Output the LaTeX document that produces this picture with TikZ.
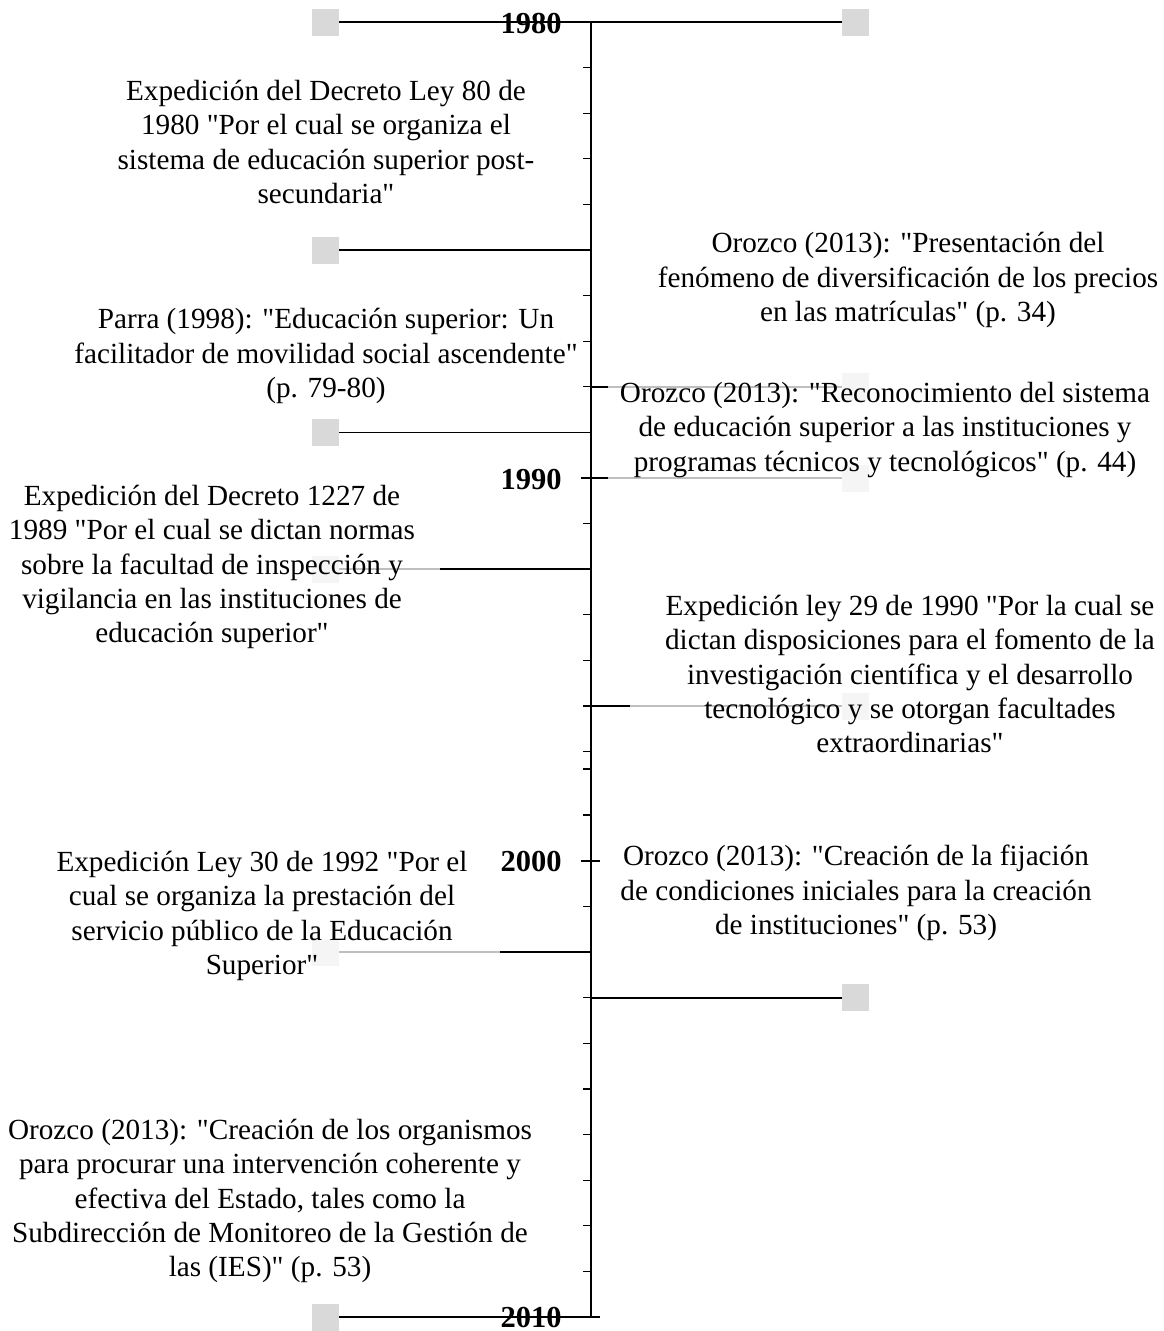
\documentclass[tikz,border=0pt]{standalone}
\usepackage{fontspec}
\setmainfont{Liberation Serif}[Ligatures=TeXOff]
\definecolor{sqgray}{HTML}{D9D9D9}
\begin{document}
\begin{tikzpicture}[x=1pt,y=-1pt,
  sq/.style={fill=sqgray, draw=none, minimum size=27pt, inner sep=0pt},
  ev/.style={line width=1.8pt, black},
  tk/.style={line width=1.3pt, black},
  txt/.style={font=\fontsize{29.2}{34.2}\selectfont, align=center, fill=white, fill opacity=0.75, text opacity=1, inner sep=4pt},
  yr/.style={font=\fontsize{30.5}{34.2}\selectfont\bfseries, inner sep=0pt}]
\useasboundingbox (0,0) rectangle (1164,1331);
% axis
\coordinate (atop) at (591,22);
\coordinate (abot) at (591,1317);
\draw[tk] (atop) -- (abot);
% regular ticks
\foreach \yy in {67.6,113.2,158.8,204.4,250,295.6,341.2,386.8,432.4,523.6,569.2,614.8,660.4,706,751.6,769,815,906.6,952.2,997.8,1043.4,1089,1134.6,1180.2,1225.8,1271.4}
  \draw[tk] (583,\yy) -- (591,\yy);
% year ticks
\foreach \yy in {22,478,861,1317}
  \draw[tk] (581,\yy) -- (600,\yy);
% squares
\node[sq] (sL1) at (325.5,22) {};
\node[sq] (sR1) at (855.5,22) {};
\node[sq] (sL2) at (325.5,250) {};
\node[sq] (sR2) at (855.5,386.8) {};
\node[sq] (sL3) at (325.5,432.4) {};
\node[sq] (sR3) at (855.5,478) {};
\node[sq] (sL4) at (325.5,569.2) {};
\node[sq] (sR4) at (855.5,706) {};
\node[sq] (sL5) at (325.5,952.2) {};
\node[sq] (sR5) at (855.5,997.8) {};
\node[sq] (sL6) at (325.5,1317) {};
% axis anchor points
\coordinate (aL1) at (591,22);
\coordinate (aL2) at (591,250);
\coordinate (aR2) at (591,386.8);
\coordinate (aL3) at (591,432.4);
\coordinate (aR3) at (591,478);
\coordinate (aL4) at (591,569.2);
\coordinate (aR4) at (591,706);
\coordinate (aL5) at (591,952.2);
\coordinate (aR5) at (591,997.8);
\coordinate (aL6) at (591,1317);
% event lines
\draw[ev] (aL1) -- (sL1);
\draw[ev] (aL1) -- (sR1);
\draw[ev] (aL2) -- (sL2);
\draw[ev] (aR2) -- (sR2);
\draw[ev] (aL3) -- (sL3);
\draw[ev] (aR3) -- (sR3);
\draw[ev] (aL4) -- (sL4);
\draw[ev] (aR4) -- (sR4);
\draw[ev] (aL5) -- (sL5);
\draw[ev] (aR5) -- (sR5);
\draw[ev] (aL6) -- (sL6);
% text boxes
\node[txt] (tA) at (326,142) {Expedición del Decreto Ley 80 de\\1980 "Por el cual se organiza el\\sistema de educación superior post-\\secundaria"};
\node[txt] (tB) at (908,280) {Orozco (2013): "Presentación del\\fenómeno de diversificación de los precios\\en las matrículas" (p. 34)};
\node[txt, minimum width=554pt, inner ysep=16pt] (tC) at (885,430) {Orozco (2013): "Reconocimiento del sistema\\de educación superior a las instituciones y\\programas técnicos y tecnológicos" (p. 44)};
\node[txt] (tF) at (326,356) {Parra (1998): "Educación superior: Un\\facilitador de movilidad social ascendente"\\(p. 79-80)};
\node[txt, minimum width=456pt] (tG) at (212,567) {Expedición del Decreto 1227 de\\1989 "Por el cual se dictan normas\\sobre la facultad de inspección y\\vigilancia en las instituciones de\\educación superior"};
\node[txt, minimum width=560pt, inner ysep=6pt] (tD) at (910,674) {Expedición ley 29 de 1990 "Por la cual se\\dictan disposiciones para el fomento de la\\investigación científica y el desarrollo\\tecnológico y se otorgan facultades\\extraordinarias"};
\node[txt] (tE) at (856,893) {Orozco (2013): "Creación de la fijación\\de condiciones iniciales para la creación\\de instituciones" (p. 53)};
\node[txt, minimum width=476pt] (tH) at (262,916) {Expedición Ley 30 de 1992 "Por el\\cual se organiza la prestación del\\servicio público de la Educación\\Superior"};
\node[txt] (tI) at (270,1201) {Orozco (2013): "Creación de los organismos\\para procurar una intervención coherente y\\efectiva del Estado, tales como la\\Subdirección de Monitoreo de la Gestión de\\las (IES)" (p. 53)};
% year labels
\node[yr] (y1980) at (531,24) {1980};
\node[yr] (y1990) at (531,479) {1990};
\node[yr] (y2000) at (531,861) {2000};
\node[yr] (y2010) at (531,1317) {2010};
\end{tikzpicture}
\end{document}
